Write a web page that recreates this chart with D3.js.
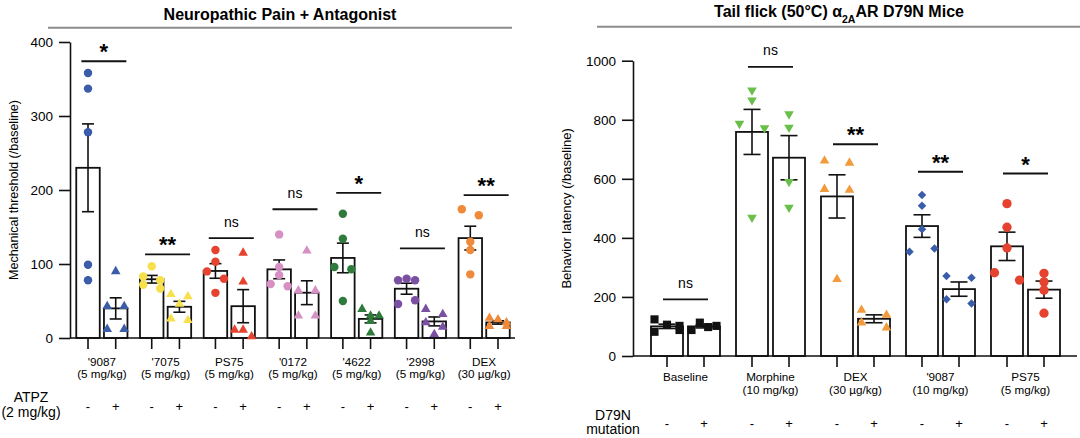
<!DOCTYPE html>
<html><head><meta charset="utf-8">
<script src="https://cdn.jsdelivr.net/npm/d3@7"></script>
<style>body{margin:0;background:#fff} svg text{font-family:"Liberation Sans",Arial,Helvetica,sans-serif;fill:#000}</style>
</head><body><svg id="c" width="1080" height="438"></svg>
<script>
// ---------------- DATA ----------------
const leftTitle = "Neuropathic Pain + Antagonist";
const leftYLabel = "Mechanical threshold (/baseline)";
const leftDrugs = ["'9087", "'7075", "PS75", "'0172", "'4622", "'2998", "DEX"];
const leftDoses = ["(5 mg/kg)", "(5 mg/kg)", "(5 mg/kg)", "(5 mg/kg)", "(5 mg/kg)", "(5 mg/kg)", "(30 µg/kg)"];
const atpzLevels = ["-", "+"];
const leftNoATPZ = [
  [358, 337, 278, 99, 78],
  [97, 83, 78, 72, 67],
  [119, 103, 90, 80, 61],
  [140, 96, 85, 73, 70],
  [168, 134, 96, 93, 50],
  [78, 80, 78, 46, 51],
  [174, 166, 130, 119, 86]
];
const leftATPZ = [
  [90, 43, 43, 12, 12],
  [59, 56, 46, 26, 24],
  [115, 76, 11, 11, 2],
  [118, 64, 64, 30, 30],
  [39, 30, 30, 23, 7],
  [39, 32, 21, 15, 5],
  [27, 25, 21, 16, 16]
];
const leftSig = ["*", "**", "ns", "ns", "*", "ns", "**"];
const leftSigLevel = [374, 113, 135, 174, 196, 121, 193];
const leftYTicks = [0, 100, 200, 300, 400];
const leftRowLabel = ["ATPZ", "(2 mg/kg)"];

const rightYLabel = "Behavior latency (/baseline)";
const rightDrugs = ["Baseline", "Morphine", "DEX", "'9087", "PS75"];
const rightDoses = ["", "(10 mg/kg)", "(30 µg/kg)", "(10 mg/kg)", "(5 mg/kg)"];
const d79nLevels = ["-", "+"];
const rightWT = [
  [124, 82, 106, 88, 102],
  [900, 866, 787, 772, 469],
  [661, 654, 565, 562, 260],
  [545, 509, 429, 353, 364],
  [516, 436, 366, 282, 257]
];
const rightD79N = [
  [88, 113, 98, 102],
  [819, 774, 590, 503],
  [156, 139, 113, 96],
  [271, 265, 192, 178],
  [280, 251, 223, 145]
];
const rightSig = ["ns", "ns", "**", "**", "*"];
const rightSigLevel = [192, 979, 717, 624, 618];
const rightYTicks = [0, 200, 400, 600, 800, 1000];
const rightRowLabel = ["D79N", "mutation"];

// ---------------- STYLE ----------------
const leftColors = ["#3b5ca8", "#f6e04b", "#e5432f", "#d690c4", "#2f7b3c", "#7b50a3", "#ef8a3a"];
const rightColors = ["#111111", "#6abf4b", "#f19b3c", "#3b5ca8", "#e5432f"];

const svg = d3.select("#c");

function sem(a) { return d3.deviation(a) / Math.sqrt(a.length); }

// GraphPad-like row scatter: points with similar pixel-y share a row and are spread symmetrically
function rowOffsets(vals, y, half, thresh) {
  const idx = vals.map((v, i) => i).sort((a, b) => (y(vals[a]) - y(vals[b])) || (a - b));
  const off = new Array(vals.length).fill(0);
  let i = 0;
  while (i < idx.length) {
    const y0 = y(vals[idx[i]]);
    const row = [idx[i]];
    let j = i + 1;
    while (j < idx.length && y(vals[idx[j]]) - y0 < thresh) { row.push(idx[j]); j++; }
    row.sort((a, b) => a - b);
    const n = row.length;
    row.forEach((k, r) => { off[k] = n === 1 ? 0 : -half + r * (2 * half / (n - 1)); });
    i = j;
  }
  return off;
}

function drawPanel(p) {
  const g = svg.append("g");
  const y = d3.scaleLinear().domain([p.ticks[0], p.ticks[p.ticks.length - 1]]).range(p.yRange);
  const xg = d3.scaleBand().domain(p.drugs).range(p.xRange);
  const xs = d3.scalePoint().domain(p.levels)
    .range([xg.bandwidth() / 2 - p.pairHalf, xg.bandwidth() / 2 + p.pairHalf]);
  const gc = gi => xg(p.drugs[gi]) + xg.bandwidth() / 2;
  const cx = (gi, lvl) => xg(p.drugs[gi]) + xs(lvl);

  // title
  g.append("text").attr("x", p.titleX).attr("y", p.titleY).attr("text-anchor", "middle")
    .style("font-size", "16px").style("font-weight", "bold").call(p.titleFn);
  g.append("line").attr("x1", p.ruleX[0]).attr("x2", p.ruleX[1]).attr("y1", p.ruleY).attr("y2", p.ruleY)
    .attr("stroke", "#8c8c8c").attr("stroke-width", 2);

  // y axis
  const ya = g.append("g").attr("transform", `translate(${p.axisX0},0)`)
    .call(d3.axisLeft(y).tickValues(p.ticks).tickSize(11).tickSizeOuter(0).tickPadding(6).tickFormat(d3.format("d")));
  ya.attr("font-family", null).attr("font-size", null);
  ya.selectAll("text").style("font-size", "13.5px");
  ya.selectAll("line,path").attr("stroke", "#111").attr("stroke-width", 1.6);

  // y label
  g.append("text").attr("transform", `translate(${p.yLabelX},${(p.yRange[0] + p.yRange[1]) / 2}) rotate(-90)`)
    .attr("text-anchor", "middle").style("font-size", p.yLabelSize).text(p.yLabel);

  const bars = p.drugs.flatMap((d, gi) => p.levels.map((lvl, li) => {
    const vals = p.series[li][gi];
    return { gi, lvl, li, vals, mean: d3.mean(vals), sem: sem(vals) };
  }));

  // bars
  g.selectAll("rect.bar").data(bars).join("rect").attr("class", "bar")
    .attr("x", d => cx(d.gi, d.lvl) - p.barW / 2).attr("width", p.barW)
    .attr("y", d => y(d.mean)).attr("height", d => y(0) - y(d.mean))
    .attr("fill", "#fff").attr("stroke", "#111").attr("stroke-width", 1.8);

  // x axis line and ticks
  g.append("line").attr("x1", p.axisX0).attr("x2", p.axisX1).attr("y1", y(0)).attr("y2", y(0))
    .attr("stroke", "#111").attr("stroke-width", 1.6);
  g.selectAll("line.xt").data(bars).join("line").attr("class", "xt")
    .attr("x1", d => cx(d.gi, d.lvl)).attr("x2", d => cx(d.gi, d.lvl))
    .attr("y1", y(0)).attr("y2", y(0) + 11).attr("stroke", "#111").attr("stroke-width", 1.6);

  // error bars
  const eb = g.selectAll("g.eb").data(bars).join("g").attr("class", "eb")
    .attr("stroke", "#111").attr("stroke-width", 1.6);
  eb.append("line").attr("x1", d => cx(d.gi, d.lvl)).attr("x2", d => cx(d.gi, d.lvl))
    .attr("y1", d => y(d.mean - d.sem)).attr("y2", d => y(d.mean + d.sem));
  [1, -1].forEach(s => eb.append("line")
    .attr("x1", d => cx(d.gi, d.lvl) - p.capW / 2).attr("x2", d => cx(d.gi, d.lvl) + p.capW / 2)
    .attr("y1", d => y(d.mean + s * d.sem)).attr("y2", d => y(d.mean + s * d.sem)));

  // points
  const pts = bars.flatMap(b => {
    const off = rowOffsets(b.vals, y, p.spread, 8);
    return b.vals.map((v, k) => ({ ...b, v, off: off[k] }));
  });
  g.selectAll("path.pt").data(pts).join("path").attr("class", "pt")
    .attr("d", d => { const s = p.symbol(d); return d3.symbol().type(s.type).size(s.size)(); })
    .attr("transform", d => `translate(${cx(d.gi, d.lvl) + d.off},${y(d.v)}) rotate(${p.symbol(d).rot})`)
    .attr("fill", d => p.colors[d.gi]);

  // significance
  p.drugs.forEach((d, gi) => {
    const ly = y(p.sigLevel[gi]);
    g.append("line").attr("x1", gc(gi) - 22.5 + p.sigShift).attr("x2", gc(gi) + 22.5 + p.sigShift)
      .attr("y1", ly).attr("y2", ly).attr("stroke", "#111").attr("stroke-width", 1.8);
    const star = p.sig[gi] !== "ns";
    g.append("text").attr("x", gc(gi) + p.sigShift).attr("y", star ? ly - 2 : ly - 11.5)
      .attr("text-anchor", "middle")
      .style("font-size", star ? "22px" : "14px").style("font-weight", star ? "bold" : "normal")
      .text(p.sig[gi]);
  });

  // group labels
  p.drugs.forEach((d, gi) => {
    const t = g.append("text").attr("text-anchor", "middle").style("font-size", "11.7px");
    t.append("tspan").attr("x", gc(gi)).attr("y", p.labY[0]).text(d);
    if (p.doses[gi]) t.append("tspan").attr("x", gc(gi)).attr("y", p.labY[1]).text(p.doses[gi]);
  });
  // level signs
  g.selectAll("text.lv").data(bars).join("text").attr("class", "lv")
    .attr("x", d => cx(d.gi, d.lvl)).attr("y", p.signY).attr("text-anchor", "middle")
    .style("font-size", "13px").text(d => d.lvl);
  // row label
  const rl = g.append("text").attr("text-anchor", "middle").style("font-size", "14px");
  rl.append("tspan").attr("x", p.rowLabX).attr("y", p.rowLabY[0]).text(p.rowLabel[0]);
  rl.append("tspan").attr("x", p.rowLabX).attr("y", p.rowLabY[1]).text(p.rowLabel[1]);
}

drawPanel({
  drugs: leftDrugs, doses: leftDoses, levels: atpzLevels, series: [leftNoATPZ, leftATPZ],
  sig: leftSig, sigLevel: leftSigLevel, ticks: leftYTicks, yLabel: leftYLabel, yLabelSize: "12.5px",
  yRange: [338, 42], xRange: [70, 516], axisX0: 70, axisX1: 515,
  pairHalf: 13.85, barW: 23.5, capW: 12, spread: 8.5, sigShift: 2,
  colors: leftColors,
  symbol: d => d.li === 0 ? { type: d3.symbolCircle, size: 56, rot: 0 } : { type: d3.symbolTriangle, size: 40, rot: 0 },
  titleX: 280, titleY: 19.5, titleFn: t => t.text(leftTitle), ruleX: [48, 512], ruleY: 27.7,
  yLabelX: 18, labY: [365.5, 378], signY: 411, rowLabX: 31, rowLabY: [402, 417], rowLabel: leftRowLabel
});

drawPanel({
  drugs: rightDrugs, doses: rightDoses, levels: d79nLevels, series: [rightWT, rightD79N],
  sig: rightSig, sigLevel: rightSigLevel, ticks: rightYTicks, yLabel: rightYLabel, yLabelSize: "13px",
  yRange: [356, 60.7], xRange: [643, 1068], axisX0: 633, axisX1: 1077,
  pairHalf: 18.5, barW: 32, capW: 17, spread: 12.5, sigShift: 0,
  colors: rightColors,
  symbol: d => [
    { type: d3.symbolSquare, size: 66, rot: 0 },
    { type: d3.symbolTriangle, size: 40, rot: 180 },
    { type: d3.symbolTriangle, size: 40, rot: 0 },
    { type: d3.symbolSquare, size: 36, rot: 45 },
    { type: d3.symbolCircle, size: 68, rot: 0 }
  ][d.gi],
  titleX: 839, titleY: 17,
  titleFn: t => {
    t.append("tspan").text("Tail flick (50°C) α");
    t.append("tspan").attr("dy", 5.5).style("font-size", "10.5px").text("2A");
    t.append("tspan").attr("dy", -5.5).text("AR D79N Mice");
  },
  ruleX: [597, 1080], ruleY: 26.7,
  yLabelX: 571, labY: [380.5, 394], signY: 427.5, rowLabX: 613, rowLabY: [419.5, 433.5], rowLabel: rightRowLabel
});
</script></body></html>
